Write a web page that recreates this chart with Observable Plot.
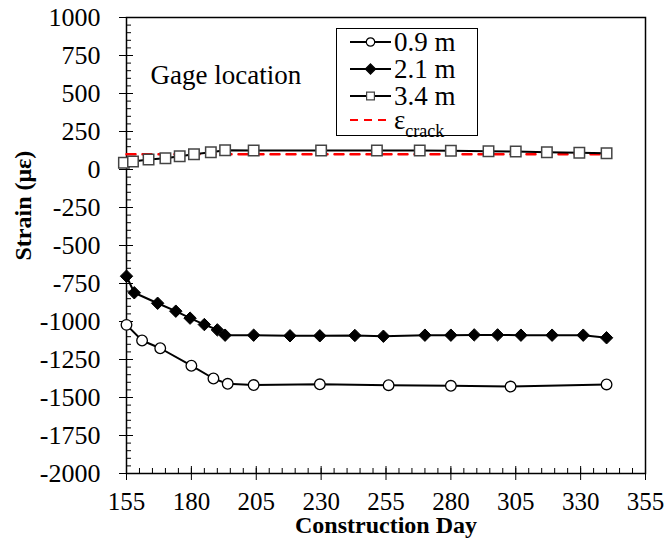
<!DOCTYPE html>
<html>
<head>
<meta charset="utf-8">
<script src="https://cdn.jsdelivr.net/npm/d3@7"></script>
<script src="https://cdn.jsdelivr.net/npm/@observablehq/plot@0.6"></script>
<style>
  html, body { margin: 0; padding: 0; background: white; }
  #wrap { position: relative; width: 669px; height: 552px; font-family: "Liberation Serif", "Times New Roman", serif; }
  #legend { position: absolute; left: 0; top: 0; }
</style>
</head>
<body>
<div id="wrap"></div>
<script>
// ---- data ----
const days09 = [155, 161, 168, 180, 188.5, 194, 204, 229.5, 256, 280, 303, 340];
const strain09 = [-1022, -1125, -1176, -1291, -1375, -1410, -1418, -1413, -1419, -1423, -1428, -1414];

const days21 = [155, 158, 167, 174, 179.5, 185, 190, 193, 204, 218, 229.5, 243, 254, 270, 280, 289, 298, 307, 319, 331, 340];
const strain21 = [-702, -811, -880, -932, -978, -1020, -1055, -1090, -1090, -1094, -1094, -1092, -1097, -1090, -1090, -1088, -1088, -1090, -1090, -1090, -1107];

const days34 = [154, 157.5, 163.5, 170, 175.5, 181, 187.5, 193, 204, 230, 251.5, 268, 280, 294.5, 305, 317, 329.5, 340];
const strain34 = [44, 53, 66, 74, 87, 101, 114, 127, 125, 125, 125, 125, 123, 120, 118, 114, 110, 107];

const crackDays = [155, 340];
const crackStrain = [100, 100];

const seriesNames = ["0.9 m", "2.1 m", "3.4 m"];
const xTicks = [155, 180, 205, 230, 255, 280, 305, 330, 355];
const yTicks = [1000, 750, 500, 250, 0, -250, -500, -750, -1000, -1250, -1500, -1750, -2000];
const xMinor = d3.range(155, 356, 5);
const yMinor = d3.range(-2000, 1001, 50);

const rows = [
  ...days09.map((d, i) => ({series: seriesNames[0], day: d, strain: strain09[i]})),
  ...days21.map((d, i) => ({series: seriesNames[1], day: d, strain: strain21[i]})),
  ...days34.map((d, i) => ({series: seriesNames[2], day: d, strain: strain34[i]}))
];
const crack = crackDays.map((d, i) => ({day: d, strain: crackStrain[i]}));

const by = s => rows.filter(r => r.series === s);
const FONT = "'Liberation Serif', 'Times New Roman', serif";

const chart = Plot.plot({
  width: 669,
  height: 552,
  marginLeft: 126,
  marginRight: 24,
  marginTop: 17,
  marginBottom: 79,
  style: {fontFamily: FONT, fontSize: "24px", background: "white", color: "black", overflow: "visible"},
  x: {domain: [155, 355], label: null},
  y: {domain: [-2000, 1000], label: null},
  marks: [
    Plot.axisX({ticks: xMinor, tickSize: -5, text: null, strokeWidth: 1}),
    Plot.axisX({ticks: xTicks, tickSize: -7, text: null, strokeWidth: 1}),
    Plot.axisX({ticks: xTicks, tickSize: 7, tickPadding: 12, tickFormat: d => String(d), fontSize: 25, label: null, strokeWidth: 1}),
    Plot.axisY({ticks: yMinor, tickSize: -5, text: null, strokeWidth: 1}),
    Plot.axisY({ticks: yTicks, tickSize: -7, text: null, strokeWidth: 1}),
    Plot.axisY({ticks: yTicks, tickSize: 7, tickPadding: 19, tickFormat: d => String(d), fontSize: 26, label: null, strokeWidth: 1}),
    Plot.frame({stroke: "black", strokeWidth: 1.5}),
    Plot.line(crack, {x: "day", y: "strain", stroke: "red", strokeWidth: 2.5, strokeDasharray: "9,7"}),
    Plot.line(by(seriesNames[2]), {x: "day", y: "strain", stroke: "black", strokeWidth: 2}),
    Plot.line(by(seriesNames[1]), {x: "day", y: "strain", stroke: "black", strokeWidth: 2}),
    Plot.line(by(seriesNames[0]), {x: "day", y: "strain", stroke: "black", strokeWidth: 2}),
    Plot.dot(by(seriesNames[2]), {x: "day", y: "strain", symbol: "square", r: 5.9, fill: "white", stroke: "#444", strokeWidth: 1.5}),
    Plot.dot(by(seriesNames[1]), {x: "day", y: "strain", symbol: "diamond2", r: 5.6, fill: "black", stroke: "black", strokeWidth: 1}),
    Plot.dot(by(seriesNames[0]), {x: "day", y: "strain", symbol: "circle", r: 5.3, fill: "white", stroke: "black", strokeWidth: 1.3}),
    Plot.text(["Gage location"], {frameAnchor: "top-left", dx: 24, dy: 47, text: d => d, fontSize: 27, textAnchor: "start", fill: "black"}),
    Plot.text(["Construction Day"], {frameAnchor: "bottom", dy: 59, text: d => d, fontSize: 24, fontWeight: "bold", fill: "black"}),
    Plot.text(["Strain (με)"], {frameAnchor: "left", dx: -103, dy: 15, rotate: -90, text: d => d, fontSize: 24, fontWeight: "bold", fill: "black"})
  ]
});

const wrap = document.getElementById("wrap");
wrap.appendChild(chart);

// ---- legend (overlay) ----
const legendItems = [
  {label: seriesNames[0], symbol: d3.symbolCircle, fill: "white", stroke: "black", size: Math.PI * 4.2 * 4.2, dash: null, color: "black"},
  {label: seriesNames[1], symbol: d3.symbolDiamond2, fill: "black", stroke: "black", size: Math.PI * 4.6 * 4.6, dash: null, color: "black"},
  {label: seriesNames[2], symbol: d3.symbolSquare, fill: "white", stroke: "#444", size: Math.PI * 4.4 * 4.4, dash: null, color: "black"},
  {label: "ε", sub: "crack", symbol: null, dash: "8,6", color: "red"}
];
const lg = d3.select(wrap).append("svg")
  .attr("id", "legend")
  .attr("width", 669).attr("height", 552)
  .style("pointer-events", "none");
const bx = 336, byTop = 28, bw = 141, bh = 107;
lg.append("rect").attr("x", bx + 0.5).attr("y", byTop + 0.5).attr("width", bw).attr("height", bh)
  .attr("fill", "white").attr("stroke", "black").attr("stroke-width", 1);
const rowY = [42, 69, 96, 120];
legendItems.forEach((it, i) => {
  const g = lg.append("g").attr("transform", `translate(${bx}, ${rowY[i]})`);
  g.append("line").attr("x1", 14).attr("x2", 55).attr("y1", 0).attr("y2", 0)
    .attr("stroke", it.color).attr("stroke-width", 2).attr("stroke-dasharray", it.dash);
  if (it.symbol) {
    g.append("path").attr("d", d3.symbol(it.symbol, it.size)()).attr("transform", "translate(34.5,0)")
      .attr("fill", it.fill).attr("stroke", it.stroke).attr("stroke-width", 1.2);
  }
  const t = g.append("text").attr("x", 58).attr("y", 0).attr("dy", "0.35em")
    .attr("font-family", FONT).attr("font-size", 27).attr("fill", "black").text(it.label);
  if (it.sub) {
    t.append("tspan").attr("font-size", 18).attr("dy", "0.4em").text(it.sub);
  }
});
</script>
</body>
</html>
